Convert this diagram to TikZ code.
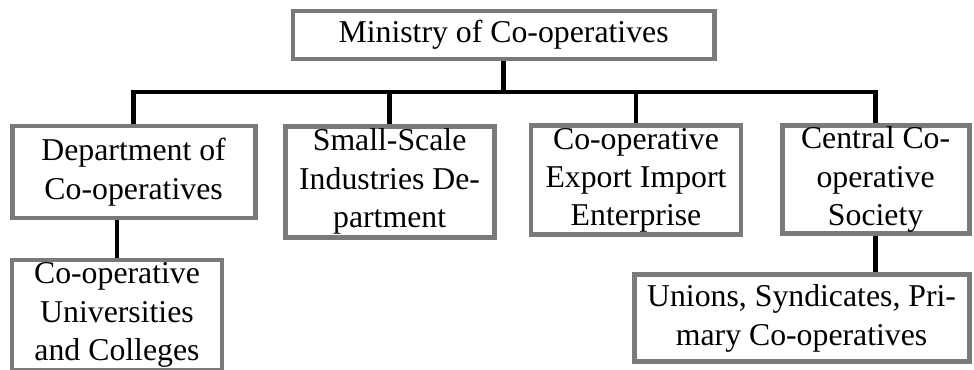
\documentclass[tikz,border=0pt]{standalone}
\usepackage{fontspec}
\setmainfont{Liberation Serif}
\usetikzlibrary{positioning}

\begin{document}
\begin{tikzpicture}[
  font=\fontsize{22.6}{27.3}\selectfont,
  box/.style={draw=black!52, line width=3.5pt, fill=white, align=center,
              inner sep=1pt},
  link/.style={draw=black, line width=3.2pt}
]
\useasboundingbox (0,0) rectangle (24.35,-9.225);
\clip (0,0) rectangle (24.35,-9.225);

\node[box, minimum width=10.53cm, minimum height=1.2cm] (min) at (12.59,-0.875) {Ministry of Co-operatives};
\node[box, minimum width=6.075cm, minimum height=2.3cm] (dep) at (3.34,-4.3) {Department of\\Co-operatives};
\node[box, minimum width=5.225cm, minimum height=2.775cm] (ssi) at (9.74,-4.54) {Small-Scale\\Industries De-\\partment};
\node[box, minimum width=5.25cm, minimum height=2.725cm] (exp) at (15.9,-4.51) {Co-operative\\Export Import\\Enterprise};
\node[box, minimum width=4.675cm, minimum height=2.675cm] (ccs) at (21.89,-4.49) {Central Co-\\operative\\Society};
\node[box, minimum width=5.25cm, minimum height=2.75cm] (uni) at (2.925,-7.875) {Co-operative\\Universities\\and Colleges};
\node[box, minimum width=8.375cm, minimum height=2.175cm] (uns) at (20.04,-7.96) {Unions, Syndicates, Pri-\\mary Co-operatives};

% bus under the ministry
\coordinate (bus) at (0,-2.3);
\draw[link] (min.south) -- (min.south |- bus);
\draw[link] (dep.north) |- (ccs.north |- bus) -- (ccs.north);
\draw[link] (ssi.north) -- (ssi.north |- bus);
\draw[link] (exp.north) -- (exp.north |- bus);

% second level
\draw[link] (uni.north) -- (uni.north |- dep.south);
\draw[link] (ccs.south) -- (ccs.south |- uns.north);
\end{tikzpicture}
\end{document}
